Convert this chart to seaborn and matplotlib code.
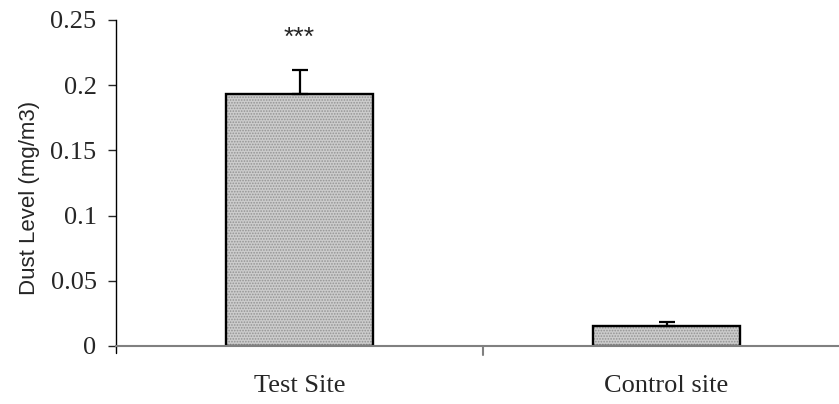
import matplotlib
matplotlib.use('Agg')
import matplotlib.pyplot as plt
from matplotlib.patches import Rectangle
import seaborn as sns
import pandas as pd

# data
sites = ['Test Site', 'Control site']
dust_level = [0.193, 0.0153]
dust_err = [0.0185, 0.003]

sns.set_style('white')
plt.rcParams['font.family'] = ['Liberation Serif', 'DejaVu Serif']
plt.rcParams['hatch.linewidth'] = 0.8

df = pd.DataFrame({'site': sites, 'dust': dust_level})

fig = plt.figure(figsize=(8.39, 4.04), dpi=100)
# x axis runs a bit past the right edge, like the reference
ax = fig.add_axes([116 / 839, 58 / 404, 734 / 839, 326 / 404])

sns.barplot(data=df, x='site', y='dust', ax=ax, color='#cccccc',
            width=0.4, linewidth=0, errorbar=None, hatch='......', saturation=1)

# hatch takes the edge colour, so draw the black outline on top separately
for p in list(ax.patches):
    p.set_edgecolor('#939393')
    ax.add_patch(Rectangle((p.get_x(), p.get_y()), p.get_width(), p.get_height(),
                           fill=False, edgecolor='black', linewidth=1.7, zorder=2.5))

ax.errorbar(range(len(sites)), dust_level, yerr=[[0] * len(sites), dust_err],
            fmt='none', ecolor='black', elinewidth=1.6, capsize=5.5, capthick=1.6, zorder=3)

ax.text(0, 0.236, '***', ha='center', va='center', fontsize=19, family='Liberation Sans')

ax.set_ylim(0, 0.25)
ax.set_xlim(-0.5, 1.5)
ax.set_yticks([0, 0.05, 0.1, 0.15, 0.2, 0.25])
ax.set_yticklabels(['0', '0.05', '0.1', '0.15', '0.2', '0.25'])
ax.set_xlabel('')
ax.set_ylabel('Dust Level (mg/m3)', family='Liberation Sans', fontsize=16)
ax.yaxis.set_label_coords(-0.104, 0.455)
ax.tick_params(axis='both', labelsize=19)
ax.tick_params(axis='y', direction='out', length=6, width=1, left=True, pad=8)
ax.tick_params(axis='x', length=0, pad=21)

for s in ['top', 'right']:
    ax.spines[s].set_visible(False)
ax.spines['left'].set_color('black')
ax.spines['left'].set_linewidth(1)
ax.spines['bottom'].set_color('#808080')
ax.spines['bottom'].set_linewidth(1.5)

# Excel-style category separator ticks below the x axis
ax.plot([-0.5, -0.5], [0, -0.0055], color='black', lw=1, clip_on=False)
ax.plot([0.5, 0.5], [0, -0.007], color='#808080', lw=1.5, clip_on=False)

fig.savefig('out.png', dpi=100)
